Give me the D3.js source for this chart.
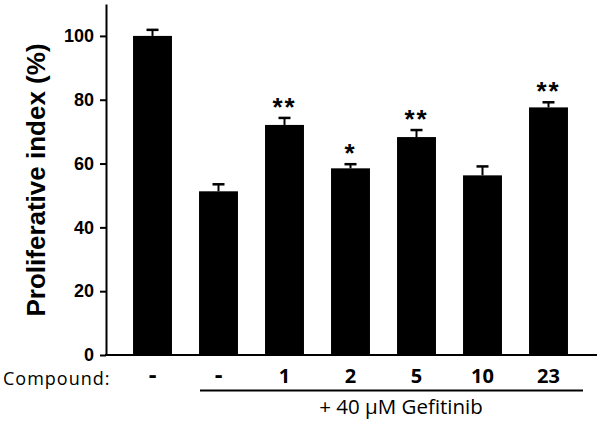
<!DOCTYPE html>
<meta charset="utf-8"/>
<head>
<style>
  body { margin:0; background:#fff; }
  svg text { fill:#000; }
</style>
<script src="https://d3js.org/d3.v7.min.js"></script>
</head>
<body>
<script>
// data
var labels = ["-", "-", "1", "2", "5", "10", "23"];
var values = [100, 51.3, 72.1, 58.5, 68.3, 56.3, 77.6];
var errors = [1.9, 2.2, 2.2, 1.3, 2.2, 2.8, 1.6];
var stars  = ["", "", "**", "*", "**", "", "**"];
var yTicks = [0, 20, 40, 60, 80, 100];

var width = 600, height = 422;

var svg = d3.select("body").append("svg")
  .attr("width", width)
  .attr("height", height);

var y = d3.scaleLinear().domain([0, 110]).range([355, 4]);
var x = d3.scaleBand()
  .domain(d3.range(labels.length))
  .range([119.5, 581.5])
  .paddingInner(0.41)
  .paddingOuter(0.205);

// y axis
var yAxis = svg.append("g")
  .attr("transform", "translate(106,0)")
  .call(d3.axisLeft(y).tickValues(yTicks).tickSize(6).tickPadding(6).tickSizeOuter(0));
yAxis.select(".domain").attr("stroke", "#000").attr("stroke-width", 2);
yAxis.selectAll(".tick line").attr("stroke", "#000").attr("stroke-width", 2);
yAxis.selectAll(".tick text")
  .attr("font-family", "Liberation Sans, Arial, sans-serif")
  .attr("font-weight", "bold")
  .attr("font-size", 18);

// x axis line
svg.append("line")
  .attr("x1", 105).attr("x2", 597)
  .attr("y1", y(0)).attr("y2", y(0))
  .attr("stroke", "#000").attr("stroke-width", 2);

// bars
svg.selectAll(".bar")
  .data(values)
  .enter().append("rect")
  .attr("class", "bar")
  .attr("x", function(d, i) { return x(i); })
  .attr("y", function(d) { return y(d); })
  .attr("width", x.bandwidth())
  .attr("height", function(d) { return y(0) - y(d); })
  .attr("fill", "#000");

// error bars (upper only)
var eb = svg.selectAll(".err")
  .data(values)
  .enter().append("g")
  .attr("class", "err");
eb.append("line")
  .attr("x1", function(d, i) { return x(i) + x.bandwidth() / 2; })
  .attr("x2", function(d, i) { return x(i) + x.bandwidth() / 2; })
  .attr("y1", function(d) { return y(d); })
  .attr("y2", function(d, i) { return y(d + errors[i]); })
  .attr("stroke", "#000").attr("stroke-width", 2);
eb.append("line")
  .attr("x1", function(d, i) { return x(i) + x.bandwidth() / 2 - 6; })
  .attr("x2", function(d, i) { return x(i) + x.bandwidth() / 2 + 6; })
  .attr("y1", function(d, i) { return y(d + errors[i]); })
  .attr("y2", function(d, i) { return y(d + errors[i]); })
  .attr("stroke", "#000").attr("stroke-width", 2.5);

// significance stars
svg.selectAll(".star")
  .data(values)
  .enter().append("text")
  .attr("class", "star")
  .attr("x", function(d, i) { return x(i) + x.bandwidth() / 2; })
  .attr("y", function(d, i) { return y(d + errors[i]) - 2; })
  .attr("text-anchor", "middle")
  .attr("font-family", "Liberation Sans, Arial, sans-serif")
  .attr("font-weight", "bold")
  .attr("font-size", 26)
  .attr("letter-spacing", 2)
  .text(function(d, i) { return stars[i]; });

// category labels
svg.selectAll(".xlab")
  .data(labels)
  .enter().append("text")
  .attr("class", "xlab")
  .attr("x", function(d, i) { return x(i) + x.bandwidth() / 2; })
  .attr("y", 383)
  .attr("text-anchor", "middle")
  .attr("font-family", "Open Sans, sans-serif")
  .attr("font-weight", "bold")
  .attr("font-size", function(d) { return d == "-" ? 24 : 20; })
  .text(function(d) { return d; });

svg.append("text")
  .attr("x", 3).attr("y", 385)
  .attr("font-family", "Open Sans, sans-serif")
  .attr("font-size", 18)
  .attr("letter-spacing", 1)
  .text("Compound:");

// gefitinib group line
svg.append("line")
  .attr("x1", 200).attr("x2", 583)
  .attr("y1", 390.5).attr("y2", 390.5)
  .attr("stroke", "#000").attr("stroke-width", 2);

svg.append("text")
  .attr("x", 401).attr("y", 414)
  .attr("text-anchor", "middle")
  .attr("font-family", "Open Sans, sans-serif")
  .attr("font-size", 20.5)
  .text("+ 40 \u03BCM Gefitinib");

// y label
svg.append("text")
  .attr("transform", "translate(45,180) rotate(-90)")
  .attr("text-anchor", "middle")
  .attr("font-family", "Liberation Sans, Arial, sans-serif")
  .attr("font-weight", "bold")
  .attr("font-size", 26)
  .text("Proliferative index (%)");
</script>
</body>
</html>
